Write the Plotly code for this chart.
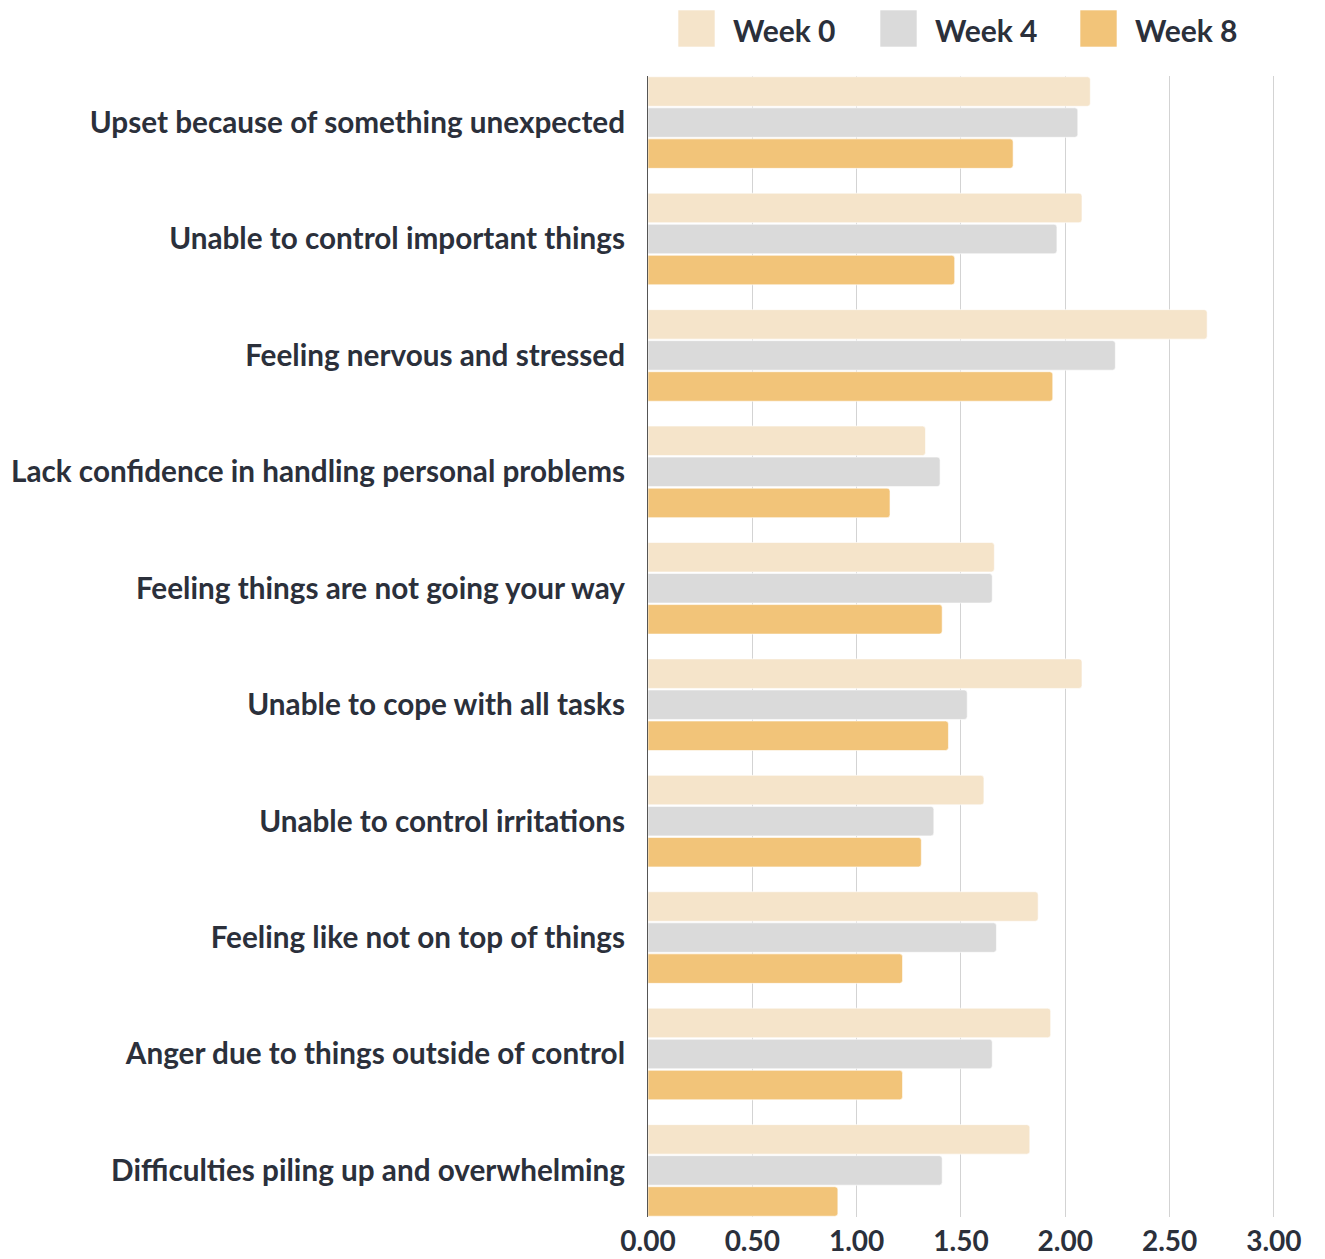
import plotly.graph_objects as go

categories = [
    "Upset because of something unexpected",
    "Unable to control important things",
    "Feeling nervous and stressed",
    "Lack confidence in handling personal problems",
    "Feeling things are not going your way",
    "Unable to cope with all tasks",
    "Unable to control irritations",
    "Feeling like not on top of things",
    "Anger due to things outside of control",
    "Difficulties piling up and overwhelming",
]
week0 = [2.12, 2.08, 2.68, 1.33, 1.66, 2.08, 1.61, 1.87, 1.93, 1.83]
week4 = [2.06, 1.96, 2.24, 1.40, 1.65, 1.53, 1.37, 1.67, 1.65, 1.41]
week8 = [1.75, 1.47, 1.94, 1.16, 1.41, 1.44, 1.31, 1.22, 1.22, 0.91]
series_names = ["Week 0", "Week 4", "Week 8"]
colors = ["#F5E4CA", "#DADADA", "#F2C479"]
tick_vals = [0, 0.5, 1.0, 1.5, 2.0, 2.5, 3.0]
tick_text = ["0.00", "0.50", "1.00", "1.50", "2.00", "2.50", "3.00"]

FONT = "Lato"
TXT = "#2b303b"

fig = go.Figure()
for name, vals, col in zip(series_names, [week0, week4, week8], colors):
    fig.add_trace(go.Bar(
        y=categories, x=vals, name=name, orientation="h",
        marker=dict(color=col, line=dict(color="rgba(255,255,255,0.6)", width=1), cornerradius=3),
        showlegend=False, hoverinfo="x+name",
    ))

# page body has an 8px margin, so the figure sits at (8, 8)
OFF = 8
W, H = 1325 - OFF, 1259 - OFF
L, R, T, B = 648 - OFF, 49, 76 - OFF, 42
PW, PH = W - L - R, H - T - B

fig.update_layout(
    width=W, height=H,
    margin=dict(l=L, r=R, t=T, b=B, autoexpand=False),
    paper_bgcolor="white", plot_bgcolor="white",
    barmode="group", bargap=0.2, bargroupgap=0.05,
    font=dict(family=FONT, color=TXT),
    xaxis=dict(
        range=[0, 3.01], tickvals=tick_vals, ticktext=tick_text,
        showgrid=True, gridcolor="#d3d3d3", gridwidth=1,
        zeroline=False, showline=False,
        tickfont=dict(family=FONT, size=28, color=TXT, weight="bold"),
        ticks="", ticklabelstandoff=5,
    ),
    yaxis=dict(
        categoryorder="array", categoryarray=categories,
        range=[9.4, -0.4], showgrid=False, zeroline=False,
        showline=True, linecolor="#555555", linewidth=1,
        tickfont=dict(family=FONT, size=29.7, color=TXT, weight="bold"),
        ticks="", ticklabelstandoff=16,
    ),
)

# Legend drawn manually with large square swatches (page coordinates)
leg_x = [678, 880, 1080]
def px(xp):
    return (xp - OFF - L) / PW
def py(yp):
    return 1 + (T - (yp - OFF)) / PH
for name, col, x0 in zip(series_names, colors, leg_x):
    fig.add_shape(type="rect", xref="paper", yref="paper",
                  x0=px(x0), x1=px(x0 + 37), y0=py(47), y1=py(10),
                  fillcolor=col, line=dict(color="rgba(255,255,255,0.6)", width=1))
    fig.add_annotation(xref="paper", yref="paper",
                       x=px(x0 + 53), y=py(30),
                       text=name, showarrow=False, xanchor="left", yanchor="middle",
                       font=dict(family=FONT, size=30, color=TXT, weight="bold"))

fig.write_html("out.html")
